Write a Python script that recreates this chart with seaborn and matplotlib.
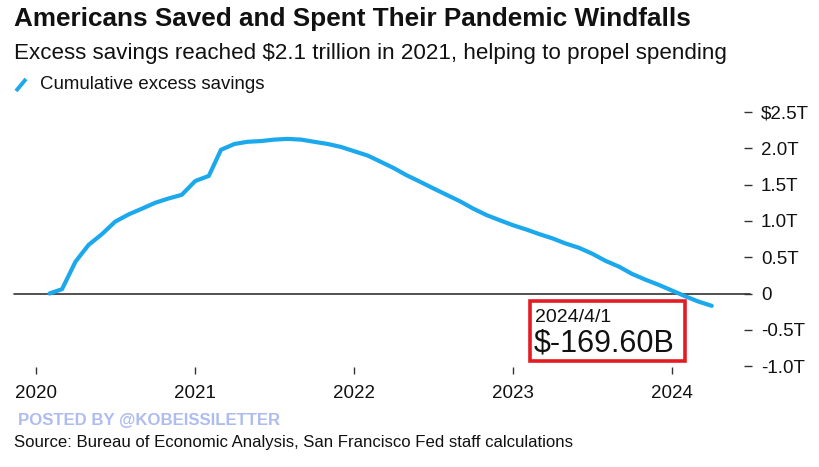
import matplotlib
matplotlib.use("Agg")
import matplotlib.pyplot as plt
from matplotlib.patches import Rectangle
from matplotlib.lines import Line2D
import seaborn as sns
import pandas as pd

# ---- data (trillions of USD) ----
months = pd.date_range("2020-02-01", "2024-04-01", freq="MS")
savings_2020 = [0.0, 0.06, 0.44, 0.67, 0.82, 0.99, 1.09, 1.17, 1.25, 1.31, 1.36]
savings_2021 = [1.55, 1.62, 1.98, 2.06, 2.09, 2.10, 2.12, 2.13, 2.12, 2.09, 2.06, 2.02]
savings_2022 = [1.96, 1.90, 1.82, 1.73, 1.63, 1.54, 1.45, 1.36, 1.27, 1.17, 1.08, 1.01]
savings_2023 = [0.94, 0.88, 0.82, 0.76, 0.69, 0.63, 0.55, 0.45, 0.37, 0.27, 0.19, 0.12]
savings_2024 = [0.04, -0.04, -0.11, -0.1696]
savings = savings_2020 + savings_2021 + savings_2022 + savings_2023 + savings_2024

year_ticks = ["2020", "2021", "2022", "2023", "2024"]
y_ticks = [-1.0, -0.5, 0, 0.5, 1.0, 1.5, 2.0, 2.5]
y_tick_labels = ["-1.0T", "-0.5T", "0", "0.5T", "1.0T", "1.5T", "2.0T", "$2.5T"]

df = pd.DataFrame({"date": months, "savings": savings})

sns.set_style("white")
plt.rcParams["font.family"] = ["Liberation Sans", "DejaVu Sans"]

W, H = 820, 467
fig = plt.figure(figsize=(W / 100, H / 100), dpi=100)

def fx(px):
    return px / W

def fy(py):
    return 1 - py / H

ax_left, ax_right, ax_top, ax_bottom = 15, 744, 108.4, 367
ax = fig.add_axes([fx(ax_left), fy(ax_bottom), (ax_right - ax_left) / W, (ax_bottom - ax_top) / H])

line_color = "#1ba8ec"
sns.lineplot(data=df, x="date", y="savings", ax=ax, color=line_color, linewidth=3.0)

ax.axhline(0, xmin=-0.001, xmax=1.008, color="#333333", linewidth=1.2, clip_on=False, zorder=1)

ax.set_xlim(pd.Timestamp("2019-11-14"), pd.Timestamp("2024-06-14"))
ax.set_ylim(-1.012, 2.55)

ax.set_xticks([pd.Timestamp(f"{y}-01-01") for y in year_ticks])
ax.set_xticklabels(year_ticks)
ax.yaxis.tick_right()
ax.set_yticks(y_ticks)
ax.set_yticklabels(y_tick_labels)

ax.tick_params(axis="x", direction="out", length=5, width=1.0, color="#333333",
               pad=8, labelsize=13.5, labelcolor="#111111", bottom=True)
ax.tick_params(axis="y", direction="out", length=5.8, width=1.0, color="#333333",
               pad=6.5, labelsize=13.5, labelcolor="#111111", right=True, left=False)
for s in ax.spines.values():
    s.set_visible(False)
ax.set_xlabel("")
ax.set_ylabel("")
ax.grid(False)

# ---- header texts ----
fig.text(fx(14), fy(19), "Americans Saved and Spent Their Pandemic Windfalls",
         fontsize=18.8, fontweight="bold", color="#111111", va="center", ha="left")
fig.text(fx(14), fy(53.5), "Excess savings reached $2.1 trillion in 2021, helping to propel spending",
         fontsize=16.1, color="#111111", va="center", ha="left")
fig.add_artist(Line2D([fx(16), fx(26)], [fy(91), fy(79)], transform=fig.transFigure,
                      color=line_color, linewidth=2.8, solid_capstyle="butt"))
fig.text(fx(40), fy(84.5), "Cumulative excess savings", fontsize=13.4, color="#111111",
         va="center", ha="left")

# ---- annotation box ----
x0, y0, x1, y1 = 529.75, 300.75, 685.25, 361.25
fig.add_artist(Rectangle((fx(x0), fy(y1)), (x1 - x0) / W, (y1 - y0) / H,
                         transform=fig.transFigure, facecolor="white",
                         edgecolor="#e31b23", linewidth=2.6, zorder=5))
fig.text(fx(535), fy(318), "2024/4/1", fontsize=14, color="#111111",
         va="center", ha="left", zorder=6)
fig.text(fx(534), fy(343), "$-169.60B", fontsize=22, color="#111111",
         va="center", ha="left", zorder=6)

# ---- footer ----
fig.text(fx(18), fy(420), "POSTED BY @KOBEISSILETTER", fontsize=12.1, fontweight="bold",
         color="#aebcf0", va="center", ha="left")
fig.text(fx(14), fy(442), "Source: Bureau of Economic Analysis, San Francisco Fed staff calculations",
         fontsize=12.05, color="#111111", va="center", ha="left")

fig.savefig("out.png", dpi=100)
